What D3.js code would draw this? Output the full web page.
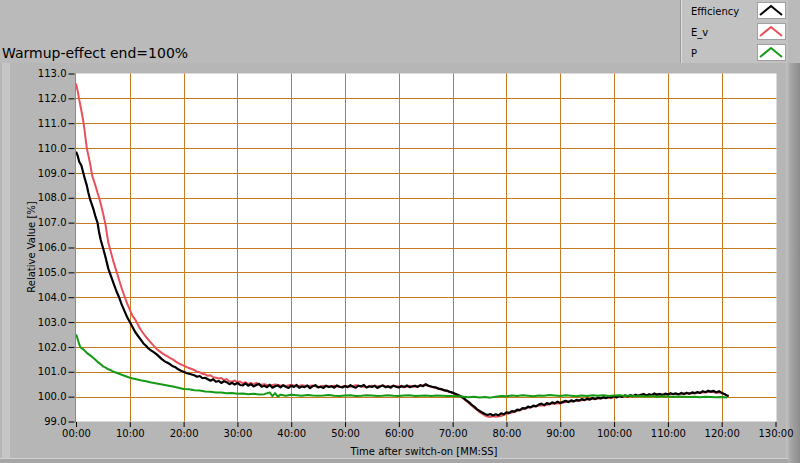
<!DOCTYPE html>
<html><head><meta charset="utf-8">
<script src="https://cdn.jsdelivr.net/npm/d3@7"></script>
<style>html,body{margin:0;padding:0;background:#bababa;}svg{display:block;}</style>
</head><body>
<svg id="chart" width="800" height="463"></svg>
<script>
const title = "Warmup-effect end=100%";
const xLabel = "Time after switch-on [MM:SS]";
const yLabel = "Relative Value [%]";
const seriesNames = ["Efficiency", "E_v", "P"];
const seriesColors = ["#000000", "#e8505a", "#159a15"];
const xTicks = [0,10,20,30,40,50,60,70,80,90,100,110,120,130];
const yTicks = [99,100,101,102,103,104,105,106,107,108,109,110,111,112,113];

// [minutes, relative value %]
const efficiency = [[0,109.85],[0.3,109.7],[0.6,109.45],[1,109.3],[1.3,109.05],[1.6,108.8],[2,108.5],[2.3,108.2],[2.6,107.95],[3,107.7],[3.3,107.5],[3.6,107.25],[4,107.0],[4.3,106.6],[4.6,106.3],[5,106.0],[5.5,105.6],[6,105.15],[6.5,104.85],[7,104.55],[7.5,104.25],[8,104.0],[8.5,103.7],[9,103.45],[9.5,103.2],[10,103.0],[10.5,102.8],[11,102.6],[11.5,102.45],[12,102.3],[12.5,102.15],[13,102.05],[13.5,101.93],[14,101.85],[14.5,101.78],[15,101.7],[15.5,101.6],[16,101.5],[16.5,101.42],[17,101.36],[17.5,101.3],[18,101.22],[18.5,101.18],[19,101.1],[19.5,101.04],[20,101.0],[20.5,100.95],[21,100.92],[21.5,100.89],
[22,100.86],[22.5,100.8],[23,100.83],[23.5,100.74],[24,100.76],[24.5,100.7],[25,100.64],[25.5,100.7],[26,100.6],[26.5,100.63],[27,100.55],[27.5,100.62],[28,100.58],[28.5,100.5],[29,100.56],[29.5,100.49],[30,100.55],[30.5,100.47],[31,100.45],[31.5,100.53],[32,100.44],[32.5,100.5],[33,100.41],[33.5,100.47],[34,100.52],[34.5,100.4],[35,100.44],[35.5,100.38],[36,100.48],[36.5,100.36],[37,100.42],[37.5,100.45],[38,100.37],[38.5,100.46],[39,100.4],[39.5,100.35],[40,100.44],[40.5,100.39],[41,100.47],[41.5,100.36],[42,100.41],[42.5,100.38],[43,100.45],[43.5,100.34],[44,100.42],[44.5,100.46],[45,100.37],[45.5,100.4],[46,100.35],[46.5,100.44],[47,100.39],[47.5,100.42],[48,100.36],[48.5,100.45],[49,100.4],[49.5,100.37],[50,100.43],[50.5,100.38],[51,100.46],[51.5,100.4],[52,100.36],[52.5,100.44],[53,100.41],[53.5,100.47],[54,100.37],[54.5,100.42],[55,100.39],[55.5,100.44],[56,100.35],[56.5,100.41],[57,100.45],[57.5,100.38],[58,100.42],[58.5,100.36],[59,100.44],[59.5,100.4],[60,100.37],[60.5,100.43],[61,100.39],[61.5,100.45],[62,100.38],[62.5,100.41],[63,100.44],[63.5,100.39],[64,100.46],[64.5,100.42],[65,100.5],[65.5,100.44],[66,100.41],[66.5,100.38],[67,100.36],[67.5,100.31],[68,100.3],[68.5,100.25],[69,100.24],[69.5,100.19],[70,100.16],
[70.5,100.12],[71,100.07],[71.5,100.02],[72,99.95],[72.5,99.86],[73,99.78],[73.5,99.68],[74,99.6],[74.5,99.5],[75,99.43],[75.5,99.36],[76,99.3],[76.5,99.26],[77,99.3],[77.5,99.24],[78,99.29],[78.5,99.25],[79,99.33],[79.5,99.29],[80,99.37],[80.5,99.35],[81,99.42],[81.5,99.4],[82,99.48],[82.5,99.46],[83,99.54],[83.5,99.52],[84,99.6],[84.5,99.57],[85,99.64],[85.5,99.61],
[86,99.68],[86.5,99.72],[87,99.66],[87.5,99.74],[88,99.7],[88.5,99.77],[89,99.73],[89.5,99.8],[90,99.74],[90.5,99.79],[91,99.83],[91.5,99.78],[92,99.85],[92.5,99.81],[93,99.87],[93.5,99.84],[94,99.9],[94.5,99.86],[95,99.92],[95.5,99.88],[96,99.95],[96.5,99.9],[97,99.96],[97.5,99.93],[98,99.98],[98.5,99.94],[99,100.0],[99.5,99.96],[100,100.02],[100.5,99.97],[101,100.03],[101.5,99.99],[102,100.05],[102.5,100.01],[103,100.06],[103.5,100.02],[104,100.08],[104.5,100.03],[105,100.07],[105.5,100.11],[106,100.05],[106.5,100.1],[107,100.06],[107.5,100.13],[108,100.08],[108.5,100.11],[109,100.07],[109.5,100.12],[110,100.09],[110.5,100.14],[111,100.1],[111.5,100.13],[112,100.09],[112.5,100.15],[113,100.11],[113.5,100.16],[114,100.12],[114.5,100.17],[115,100.14],[115.5,100.19],[116,100.15],[116.5,100.22],[117,100.18],[117.5,100.24],[118,100.2],[118.5,100.23],[119,100.17],[119.5,100.22],[120,100.15],[120.5,100.11],[121,100.04],[121.3,100.03]];

const eV = [[0,112.6],[0.3,112.3],[0.6,111.95],[1,111.5],[1.3,111.15],[1.6,110.7],[2,110.0],[2.3,109.7],[2.6,109.4],[3,108.9],[3.3,108.7],[3.6,108.5],[4,108.2],[4.3,108.0],[4.6,107.75],[5,107.4],[5.5,106.9],[6,106.2],[6.5,105.8],[7,105.4],[7.5,105.05],[8,104.7],[8.5,104.35],[9,104.05],[9.5,103.75],[10,103.5],[10.5,103.25],[11,103.1],[11.5,102.9],[12,102.7],[12.5,102.55],[13,102.4],[13.5,102.28],[14,102.15],[14.5,102.03],[15,101.92],[15.5,101.83],[16,101.75],[16.5,101.68],[17,101.62],[17.5,101.55],[18,101.5],[18.5,101.42],[19,101.35],[19.5,101.3],[20,101.25],[21,101.15],[22,101.07],[22.5,101.0],[23,100.98],[23.5,100.92],[24,100.9],[24.5,100.84],[25,100.86],[25.5,100.78],[26,100.76],[26.5,100.73],[27,100.75],[27.5,100.67],[28,100.7],[28.5,100.62],[29,100.6],[29.5,100.65],[30,100.58],[30.5,100.61],[31,100.53],[31.5,100.58],[32,100.51],[32.5,100.55],[33,100.49],[33.5,100.56],[34,100.47],[35,100.5],[36,100.44],[37,100.49],[38,100.45],[39,100.43],[40,100.48],[41,100.41],[42,100.46],[43,100.42],[44,100.45],[45,100.39],[46,100.44],[47,100.41],[48,100.44],[49,100.39],[50,100.43],[51,100.4],[52,100.46],[53,100.42],[54,100.38],[55,100.44],[56,100.41],[57,100.45],[58,100.39],[59,100.44],[60,100.41],[61,100.38],[62,100.44],[63,100.4],[64,100.45],[65,100.47],[66,100.4],[67,100.35],[68,100.28],[69,100.22],[70,100.14],[71,100.05],[72,99.92],[73,99.74],[74,99.55],[75,99.38],[76,99.24],[76.5,99.2],[77,99.18],[77.5,99.22],[78,99.19],[79,99.22],[79.5,99.27],[80,99.3],[81,99.36],[82,99.42],[83,99.5],[84,99.55],[85,99.6],[86,99.64],[87,99.64],[88,99.7],[89,99.72],[90,99.72],[91,99.78],[92,99.8],[93,99.82],[94,99.85],[95,99.88],[96,99.91],[97,99.92],[98,99.95],[99,99.95],[100,99.98],[101,99.99],[102,100.02],[103,100.02],[104,100.04],[105,100.05],[106,100.06],[107,100.07],[108,100.08],[109,100.08],[110,100.1],[111,100.1],[112,100.11],[113,100.12],[114,100.13],[115,100.14],[116,100.16],[117,100.18],[118,100.2],[119,100.17],[120,100.16],[120.5,100.1],[121,100.04],[121.3,100.02]];

const power = [[0,102.5],[0.2,102.4],[0.4,102.25],[0.6,102.1],[0.8,102.0],[1,101.95],[1.5,101.88],[2,101.76],[2.5,101.68],[3,101.6],[3.5,101.5],[4,101.4],[4.5,101.32],[5,101.22],[5.5,101.17],[6,101.1],[6.5,101.06],[7,101.0],[7.5,100.96],[8,100.92],[8.5,100.88],[9,100.84],[9.5,100.8],[10,100.76],[11,100.71],[12,100.66],[13,100.62],[14,100.57],[15,100.53],[16,100.49],[17,100.45],[18,100.41],[19,100.36],[20,100.31],[21,100.3],[22,100.26],[23,100.25],[24,100.21],[25,100.2],[26,100.17],[27,100.17],[28,100.14],[29,100.15],[30,100.12],[31,100.13],[32,100.1],[33,100.12],[34,100.09],[35,100.1],[36,100.17],[36.5,100.02],[37,100.14],[37.5,100.0],[38,100.08],[39,100.04],[40,100.08],[41,100.06],[42,100.04],[43,100.07],[44,100.05],[45,100.04],[46,100.05],[47,100.07],[48,100.04],[49,100.03],[50,100.05],[51,100.06],[52,100.03],[53,100.04],[54,100.06],[55,100.05],[56,100.03],[57,100.04],[58,100.06],[59,100.04],[60,100.03],[61,100.05],[62,100.06],[63,100.03],[64,100.04],[65,100.05],[66,100.03],[67,100.05],[68,100.04],[69,100.03],[70,100.03],[71,100.02],[72,100.0],[73,99.98],[74,100.0],[75,99.97],[76,99.99],[77,99.96],[78,100.0],[79,100.03],[80,100.02],[81,100.05],[82,100.03],[83,100.06],[84,100.04],[85,100.02],[86,100.05],[87,100.04],[88,100.07],[89,100.05],[90,100.03],[91,100.06],[92,100.04],[93,100.02],[94,100.05],[95,100.03],[96,100.06],[97,100.04],[98,100.06],[99,100.03],[100,100.05],[101,100.06],[102,100.03],[103,100.05],[104,100.02],[105,100.03],[106,100.01],[107,100.03],[108,100.0],[109,100.02],[110,100.01],[111,99.99],[112,100.01],[113,100.0],[114,99.99],[115,100.0],[116,99.98],[117,100.0],[118,99.99],[119,99.98],[120,99.99],[121,99.97]];

const svg = d3.select("#chart");
const W = 800, H = 463;
const plot = {left: 76, right: 776.5, top: 73.5, bottom: 421.5};
const gridColor = "#c87a1e";
const font = "'DejaVu Sans', sans-serif";

// frame / background
svg.append("rect").attr("x",0).attr("y",0).attr("width",W).attr("height",H).attr("fill","#bababa");
svg.append("rect").attr("x",0).attr("y",63).attr("width",788).attr("height",395).attr("fill","#b6b6b6");
svg.append("rect").attr("x",2).attr("y",63).attr("width",8).attr("height",395).attr("fill","#c6c6c6");
const grad = svg.append("defs").append("linearGradient").attr("id","rg").attr("x1","0").attr("x2","1");
grad.append("stop").attr("offset","0").attr("stop-color","#c4c4c4");
grad.append("stop").attr("offset","0.3").attr("stop-color","#a8a8a8");
grad.append("stop").attr("offset","1").attr("stop-color","#8c8c8c");
svg.append("rect").attr("x",786).attr("y",63).attr("width",14).attr("height",400).attr("fill","url(#rg)");
svg.append("rect").attr("x",0).attr("y",458).attr("width",788).attr("height",1).attr("fill","#cfcfcf");
svg.append("rect").attr("x",0).attr("y",459).attr("width",788).attr("height",4).attr("fill","#a6a6a6");

// title
svg.append("text").attr("x",2).attr("y",58).attr("font-family",font).attr("font-size",14)
  .attr("fill","#000").text(title);

// scales
const x = d3.scaleLinear().domain([0,130]).range([plot.left, 775.5]);
const y = d3.scaleLinear().domain([99,113]).range([plot.bottom, plot.top]);

// plot area
svg.append("rect").attr("x",plot.left).attr("y",plot.top).attr("width",plot.right-plot.left)
  .attr("height",plot.bottom-plot.top).attr("fill","#ffffff");

// grid
const g = svg.append("g");
g.selectAll(".gx").data(xTicks.filter(d => d>0 && d<130)).join("line")
  .attr("x1",d=>Math.round(x(d))+0.5).attr("x2",d=>Math.round(x(d))+0.5)
  .attr("y1",plot.top).attr("y2",plot.bottom).attr("stroke",gridColor).attr("stroke-width",1);
g.selectAll(".gy").data(yTicks.filter(d => d>99 && d<113)).join("line")
  .attr("y1",d=>Math.round(y(d))+0.5).attr("y2",d=>Math.round(y(d))+0.5)
  .attr("x1",plot.left).attr("x2",plot.right).attr("stroke",gridColor).attr("stroke-width",1);

// left border
svg.append("line").attr("x1",75.5).attr("x2",75.5).attr("y1",plot.top).attr("y2",plot.bottom+1)
  .attr("stroke","#8a8a8a").attr("stroke-width",1);

// axes
const yAxis = d3.axisLeft(y).tickValues(yTicks).tickFormat(d3.format(".1f")).tickSize(6).tickPadding(2);
const ya = svg.append("g").attr("transform","translate(74.5,0)").call(yAxis);
ya.select(".domain").remove();
ya.selectAll("text").attr("font-family",font).attr("font-size",10).attr("fill","#000");
ya.selectAll("line").attr("stroke","#000");

const xAxis = d3.axisBottom(x).tickValues(xTicks).tickFormat(d => d3.format("02d")(d) + ":00").tickSize(5).tickPadding(3);
const xa = svg.append("g").attr("transform","translate(0,422)").call(xAxis);
xa.select(".domain").remove();
xa.selectAll("text").attr("font-family",font).attr("font-size",10).attr("fill","#000");
xa.selectAll("line").attr("stroke","#000");

// axis labels
svg.append("text").attr("x",424).attr("y",455).attr("text-anchor","middle")
  .attr("font-family",font).attr("font-size",10).attr("fill","#000").text(xLabel);
svg.append("text").attr("transform","translate(35,247) rotate(-90)").attr("text-anchor","middle")
  .attr("font-family",font).attr("font-size",10).attr("fill","#000").text(yLabel);

// lines
svg.append("defs").append("clipPath").attr("id","clip").append("rect")
  .attr("x",plot.left).attr("y",plot.top).attr("width",plot.right-plot.left).attr("height",plot.bottom-plot.top);
const line = d3.line().x(d => x(d[0])).y(d => y(d[1]));
const lg = svg.append("g").attr("clip-path","url(#clip)");
const seriesData = [efficiency, eV, power];
[1,0,2].forEach(i => {
  lg.append("path").datum(seriesData[i]).attr("d", line).attr("fill","none")
    .attr("stroke", seriesColors[i]).attr("stroke-width", i===0 ? 2.2 : 2).attr("stroke-linejoin","round");
});

// legend
const leg = svg.append("g");
leg.append("rect").attr("x",680).attr("y",0).attr("width",108).attr("height",63).attr("fill","#c2c2c2");
leg.append("line").attr("x1",680.5).attr("x2",680.5).attr("y1",0).attr("y2",63).attr("stroke","#9a9a9a");
leg.append("line").attr("x1",681.5).attr("x2",681.5).attr("y1",0).attr("y2",63).attr("stroke","#dedede");
const legY = [0, 21, 42];
seriesNames.forEach((name, i) => {
  const top = legY[i];
  leg.append("text").attr("x",691).attr("y",top+15).attr("font-family",font).attr("font-size",10)
    .attr("fill","#000").text(name);
  leg.append("rect").attr("x",757.5).attr("y",top+2.5).attr("width",28).attr("height",16)
    .attr("fill","#fff").attr("stroke","#a0a0a0");
  leg.append("path").attr("d",`M${760},${top+15} L${771},${top+6} L${782},${top+15}`)
    .attr("fill","none").attr("stroke",seriesColors[i]).attr("stroke-width",2);
});
</script>
</body></html>
